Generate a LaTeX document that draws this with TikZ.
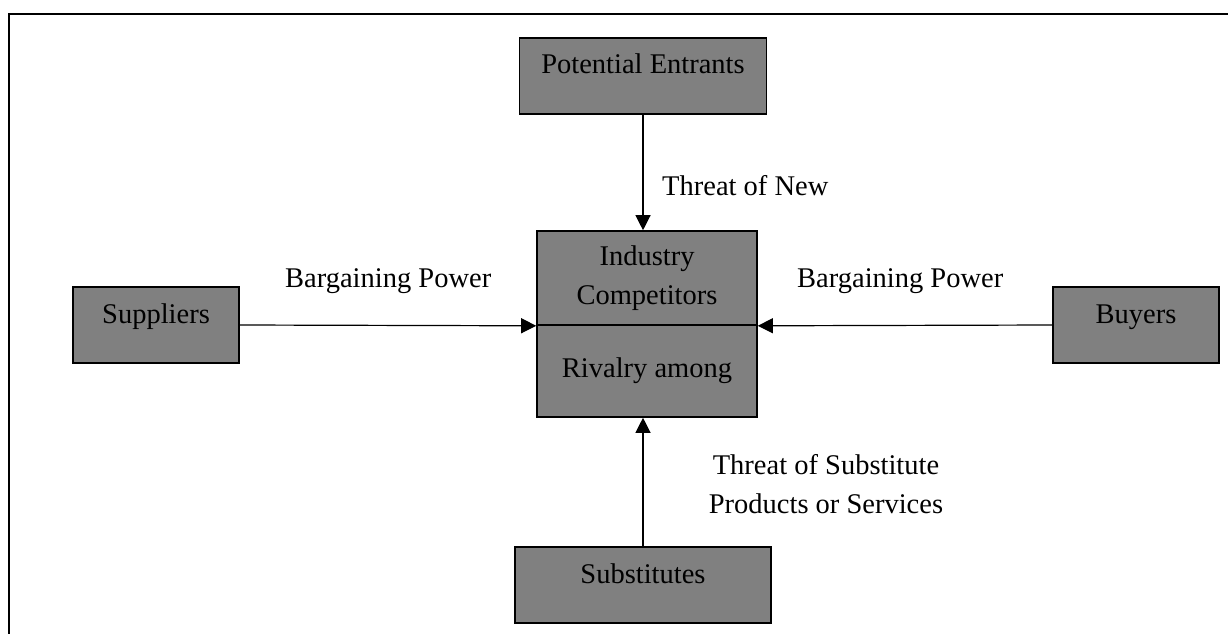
\documentclass[tikz,border=0pt]{standalone}
\usepackage{fontspec}
\setmainfont{Liberation Serif}
\usetikzlibrary{arrows.meta}

\begin{document}
\begin{tikzpicture}[x=1pt,y=-1pt]
    \useasboundingbox (0,0) rectangle (1228,634);

        % frame, only left and top sides
        \draw[line width=2pt] (9,634) -- (9,14) -- (1228,14);

        % the outer forces, use the tuple for location
        \begin{scope}[every node/.style={draw,fill=gray,line width=1.6pt,inner ysep=0pt,
                      text height=36pt,text depth=40pt,font=\fontsize{28.5}{39}\selectfont}]
        \node[minimum width=247pt] (PE) at (643,76) {Potential Entrants};
        \node[minimum width=166pt] (sup) at (156,325) {Suppliers};
        \node[minimum width=166pt] (buy) at (1136,325) {Buyers};
        \node[minimum width=256pt] (sub) at (643,585) {Substitutes};
        \end{scope}

        % the core box, two halves
        \begin{scope}[every node/.style={draw,fill=gray,line width=1.6pt,minimum width=220pt,
                      align=center,font=\fontsize{28.5}{39}\selectfont}]
        \node[minimum height=94pt] (ind) at (647,278) {Industry\\Competitors};
        \node[minimum height=92pt] (riv) at (647,371) {Rivalry among};
        \end{scope}

        % threats and powers
        \begin{scope}[>={Triangle[length=15pt,width=15pt]}, line width=1.2pt]
        \draw[->] (PE.south) -- (PE.south |- ind.north);
        \draw[->] (sup.east) -- (ind.south west);
        \draw[->] (buy.west) -- (ind.south east);
        \draw[->] (sub.north) -- (sub.north |- riv.south);
        \end{scope}

        % labels of the arrows
        \begin{scope}[every node/.style={inner sep=0pt,font=\fontsize{28.5}{39}\selectfont}]
        \node[anchor=base west] (newlbl) at (662,195) {Threat of New};
        \node[anchor=base west] (suplbl) at (285,287) {Bargaining Power};
        \node[anchor=base west] (buylbl) at (797,287) {Bargaining Power};
        \node[anchor=north,align=center] (sublbl) at (826,454) {Threat of Substitute\\Products or Services};
        \end{scope}

\end{tikzpicture}
\end{document}
